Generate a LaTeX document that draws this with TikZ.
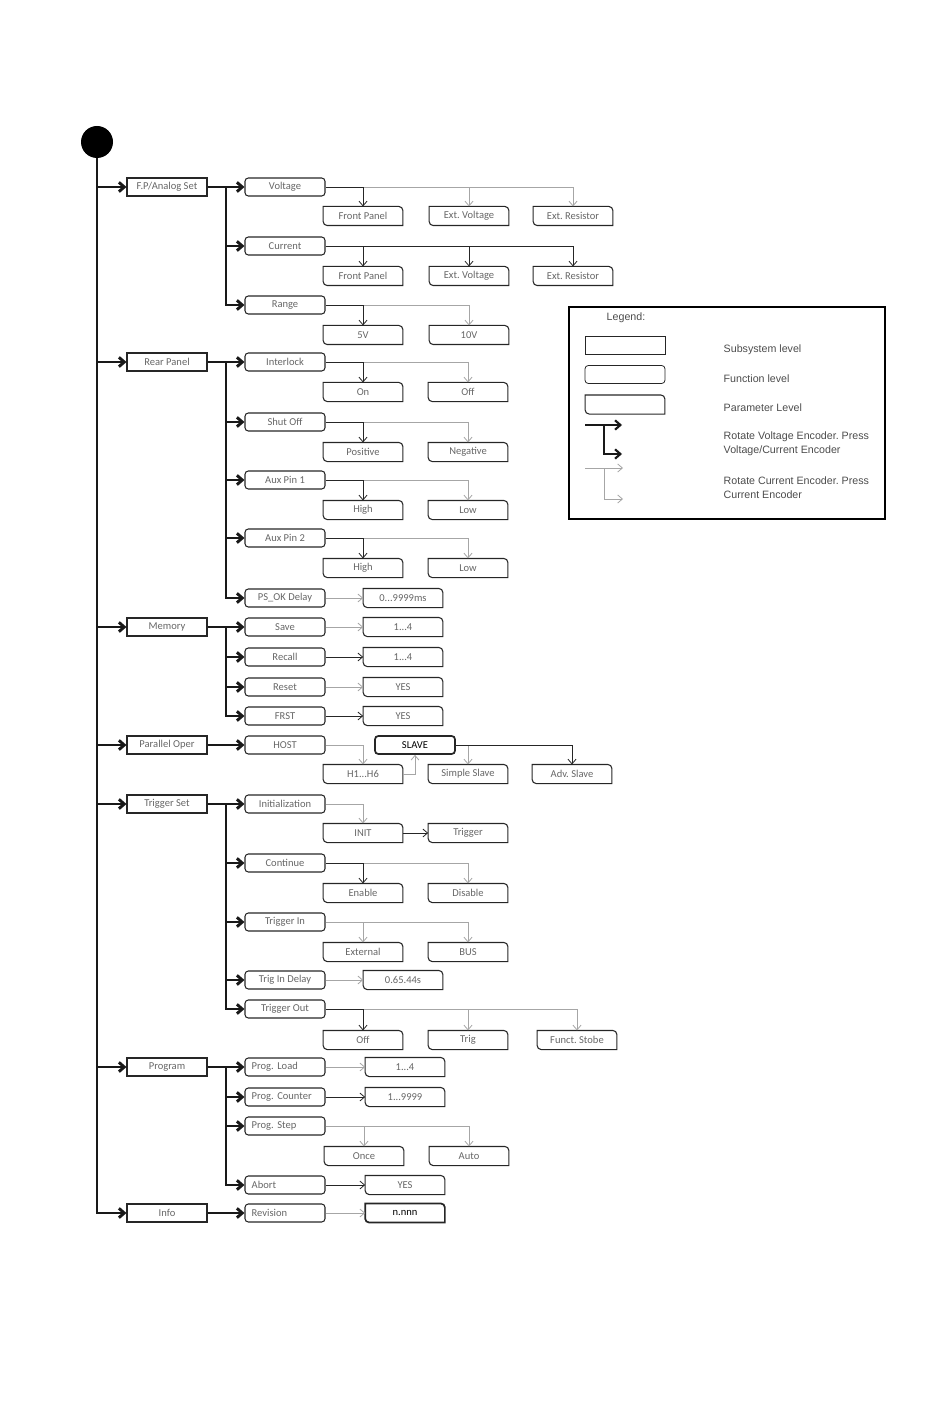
\documentclass[tikz,border=0pt]{standalone}
\usepackage{fontspec}
\setmainfont{Carlito}
\newfontfamily\legendfont{Liberation Sans}
\usetikzlibrary{arrows.meta}
\frenchspacing
\newcommand\boxfont{\fontsize{7.9}{9}\selectfont}
\newcommand\legfont{\legendfont\fontsize{8}{10.5}\selectfont}
\tikzset{
  subsys/.style={draw=black!85, line width=0.8pt, minimum width=60pt, minimum height=13.5pt, inner sep=0pt, text=black!60, font=\boxfont},
  func/.style={subsys, rounded corners=2.5pt},
  funcl/.style={func, align=left, text width=50pt},
  param/.style={subsys, minimum width=59pt, draw=none},
  paredge/.style={draw=black!85, line width=0.8pt, rounded corners=3pt, line cap=rect},
  thickline/.style={line width=2.2pt, black!90},
  thickarrow/.style={thickline, -{Straight Barb[length=4pt,width=7pt]}},
  varrow/.style={line width=0.6pt, black!85, -{Straight Barb[length=3.5pt,width=6pt]}},
  carrow/.style={varrow, black!35},
  legtext/.style={font=\legfont, text=black!70, anchor=west, align=left},
}

\begin{document}
\begin{tikzpicture}[x=0.75pt, y=-0.75pt]
  \useasboundingbox (0,0) rectangle (950,1408);

  \node[circle, fill=black, minimum size=24pt, inner sep=0pt] (start) at (97,142) {};
  \node[subsys] (ep) at (167,187) {F.P/Analog Set};
  \node[subsys] (rear) at (167,362) {Rear Panel};
  \node[subsys] (mem) at (167,627) {Memory};
  \node[subsys] (par) at (167,745) {Parallel Oper};
  \node[subsys] (trig) at (167,804) {Trigger Set};
  \node[subsys] (prog) at (167,1067) {Program};
  \node[subsys] (info) at (167,1213) {Info};

  \node[func] (volt) at (285,187) {Voltage};
  \node[func] (curr) at (285,246) {Current};
  \node[func] (range) at (285,305) {Range};
  \node[func] (ilock) at (285,362) {Interlock};
  \node[func] (shut) at (285,422) {Shut Off};
  \node[func] (aux1) at (285,480) {Aux Pin 1};
  \node[func] (aux2) at (285,538) {Aux Pin 2};
  \node[func] (psok) at (285,598) {PS\_OK Delay};
  \node[func] (save) at (285,627) {Save};
  \node[func] (recall) at (285,657) {Recall};
  \node[func] (reset) at (285,687) {Reset};
  \node[func] (frst) at (285,716) {FRST};
  \node[func] (host) at (285,745) {HOST};
  \node[func] (init) at (285,804) {Initialization};
  \node[func] (cont) at (285,863) {Continue};
  \node[func] (trin) at (285,922) {Trigger In};
  \node[func] (trdel) at (285,980) {Trig In Delay};
  \node[func] (trout) at (285,1009) {Trigger Out};
  \node[funcl] (pload) at (285,1067) {Prog. Load};
  \node[funcl] (pcount) at (285,1097) {Prog. Counter};
  \node[funcl] (pstep) at (285,1126) {Prog. Step};
  \node[funcl] (abort) at (285,1185) {Abort};
  \node[funcl] (rev) at (285,1213) {Revision};
  \node[func, line width=1.3pt, text=black] (slave) at (415,745) {SLAVE};

  \node[param] (vfp) at (363,216) {Front Panel};
  \node[param] (vev) at (469,216) {Ext. Voltage};
  \node[param] (ver) at (573,216) {Ext. Resistor};
  \node[param] (cfp) at (363,276) {Front Panel};
  \node[param] (cev) at (469,276) {Ext. Voltage};
  \node[param] (cer) at (573,276) {Ext. Resistor};
  \node[param] (r5) at (363,335) {5V};
  \node[param] (r10) at (469,335) {10V};
  \node[param] (ion) at (363,392) {On};
  \node[param] (ioff) at (468,392) {Off};
  \node[param] (spos) at (363,452) {Positive};
  \node[param] (sneg) at (468,452) {Negative};
  \node[param] (a1h) at (363,510) {High};
  \node[param] (a1l) at (468,510) {Low};
  \node[param] (a2h) at (363,568) {High};
  \node[param] (a2l) at (468,568) {Low};
  \node[param] (psokv) at (403,598) {0...9999ms};
  \node[param] (savev) at (403,627) {1...4};
  \node[param] (recallv) at (403,657) {1...4};
  \node[param] (resetv) at (403,687) {YES};
  \node[param] (frstv) at (403,716) {YES};
  \node[param] (h16) at (363,774) {H1...H6};
  \node[param] (simple) at (468,774) {Simple Slave};
  \node[param] (adv) at (572,774) {Adv. Slave};
  \node[param] (initv) at (363,833) {INIT};
  \node[param] (trigv) at (468,833) {Trigger};
  \node[param] (cen) at (363,893) {Enable};
  \node[param] (cdis) at (468,893) {Disable};
  \node[param] (tinext) at (363,952) {External};
  \node[param] (tbus) at (468,952) {BUS};
  \node[param] (trdelv) at (403,980) {0.65.44s};
  \node[param] (toff) at (363,1040) {Off};
  \node[param] (ttrig) at (468,1040) {Trig};
  \node[param] (tstobe) at (577,1040) {Funct. Stobe};
  \node[param] (ploadv) at (405,1067) {1...4};
  \node[param] (pcountv) at (405,1097) {1...9999};
  \node[param] (ponce) at (364,1156) {Once};
  \node[param] (pauto) at (469,1156) {Auto};
  \node[param] (abortv) at (405,1185) {YES};
  \node[param, text=black] (revv) at (405,1213) {n.nnn};

  \foreach \n in {vfp,vev,ver,cfp,cev,cer,r5,r10,ion,ioff,spos,sneg,a1h,a1l,a2h,a2l,psokv,savev,recallv,resetv,frstv,h16,simple,adv,initv,trigv,cen,cdis,tinext,tbus,trdelv,toff,ttrig,tstobe,ploadv,pcountv,ponce,pauto,abortv}
    \draw[paredge] (\n.north west) -- (\n.north east) -- (\n.south east) (\n.south east) -- (\n.south west) -- (\n.north west);
  \draw[paredge, line width=1.3pt] (revv.north west) -- (revv.north east) -- (revv.south east) (revv.south east) -- (revv.south west) -- (revv.north west);

  \draw[thickarrow] (start) |- (info);
  \foreach \n in {ep,rear,mem,par,trig,prog}
    \draw[thickarrow] (start |- \n) -- (\n);

  \coordinate (brx) at (226,0);
  \foreach \a/\b in {ep/volt,rear/ilock,mem/save,par/host,trig/init,prog/pload,info/rev}
    \draw[thickarrow] (\a) -- (\b);
  \foreach \a/\b in {ep/curr,ep/range,rear/shut,rear/aux1,rear/aux2,rear/psok,mem/recall,mem/reset,mem/frst,trig/cont,trig/trin,trig/trdel,trig/trout,prog/pcount,prog/pstep,prog/abort}
    \draw[thickarrow] (brx |- \a) |- (\b);

  \foreach \a/\b in {volt/vev,volt/ver,range/r10,ilock/ioff,shut/sneg,aux1/a1l,aux2/a2l,host/h16,h16/slave,slave/simple,init/initv,cont/cdis,trin/tinext,trin/tbus,trout/ttrig,trout/tstobe,pstep/ponce,pstep/pauto}
    \draw[carrow] (\a) -| (\b);
  \foreach \a/\b in {psok/psokv,save/savev,reset/resetv,trdel/trdelv,pload/ploadv,rev/revv}
    \draw[carrow] (\a) -- (\b);
  \foreach \a/\b in {volt/vfp,curr/cfp,curr/cev,curr/cer,range/r5,ilock/ion,shut/spos,aux1/a1h,aux2/a2h,slave/adv,cont/cen,trout/toff}
    \draw[varrow] (\a) -| (\b);
  \foreach \a/\b in {recall/recallv,frst/frstv,initv/trigv,pcount/pcountv,abort/abortv}
    \draw[varrow] (\a) -- (\b);

  \draw[line width=1.2pt] (569,307) rectangle (885,519);
  \node[legtext] (legtitle) at (602,318) {Legend:};
  \node[subsys, line width=0.6pt] (lsub) at (625,345) {};
  \node[func, line width=0.6pt] (lfun) at (625,374.5) {};
  \node[param] (lpar) at (625,404.5) {};
  \draw[paredge] (lpar.north west) -- (lpar.north east) -- (lpar.south east) (lpar.south east) -- (lpar.south west) -- (lpar.north west);
  \node[legtext] (lsubt) at (719,350) {Subsystem level};
  \node[legtext] (lfunt) at (719,379) {Function level};
  \node[legtext] (lpart) at (719,408) {Parameter Level};
  \node[legtext] (lvt) at (719,444) {Rotate Voltage Encoder. Press\\Voltage/Current Encoder};
  \node[legtext] (lct) at (719,488) {Rotate Current Encoder. Press\\Current Encoder};
  \coordinate (lv1) at (585,425);
  \coordinate (lv2) at (622,425);
  \coordinate (lvb) at (604,425);
  \coordinate (lv3) at (622,454);
  \draw[thickarrow, line width=1.6pt] (lv1) -- (lv2);
  \draw[thickarrow, line width=1.6pt] (lvb) |- (lv3);
  \coordinate (lc1) at (585,468);
  \coordinate (lc2) at (623,468);
  \coordinate (lcb) at (604,468);
  \coordinate (lc3) at (623,499);
  \draw[carrow] (lc1) -- (lc2);
  \draw[carrow] (lcb) |- (lc3);
\end{tikzpicture}
\end{document}
